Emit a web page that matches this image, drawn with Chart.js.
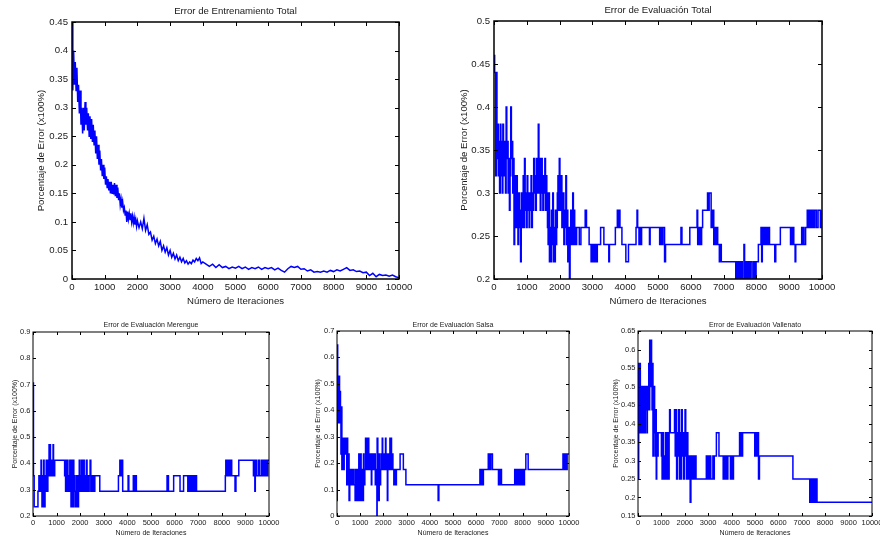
<!DOCTYPE html>
<html>
<head>
<meta charset="utf-8">
<script src="https://cdn.jsdelivr.net/npm/chart.js@4.4.1/dist/chart.umd.min.js"></script>
<style>
  html, body { margin: 0; padding: 0; background: #fff; overflow: hidden; width: 880px; height: 541px; }
  canvas { position: absolute; }
</style>
</head>
<body>
<canvas id="c-train" width="440" height="310" style="left:0;top:0"></canvas>
<canvas id="c-total" width="440" height="310" style="left:440px;top:0"></canvas>
<canvas id="c-mer" width="290" height="226" style="left:0;top:315px"></canvas>
<canvas id="c-sal" width="290" height="226" style="left:300px;top:315px"></canvas>
<canvas id="c-val" width="310" height="226" style="left:590px;top:315px"></canvas>
<script>
/* ─── DATA ───────────────────────────────────────────────────
   [iteración, error] pairs.
   Evaluation curves are step functions: each pair is where the
   value changes.
─────────────────────────────────────────────────────────────── */

const X_TICKS = [0, 1000, 2000, 3000, 4000, 5000, 6000, 7000, 8000, 9000, 10000];

const TRAIN_TICKS = [0, 0.05, 0.1, 0.15, 0.2, 0.25, 0.3, 0.35, 0.4, 0.45];
const TOTAL_TICKS = [0.2, 0.25, 0.3, 0.35, 0.4, 0.45, 0.5];
const MER_TICKS   = [0.2, 0.3, 0.4, 0.5, 0.6, 0.7, 0.8, 0.9];
const SAL_TICKS   = [0, 0.1, 0.2, 0.3, 0.4, 0.5, 0.6, 0.7];
const VAL_TICKS   = [0.15, 0.2, 0.25, 0.3, 0.35, 0.4, 0.45, 0.5, 0.55, 0.6, 0.65];

const TRAIN = [
  [0,0.45],[25,0.33],[50,0.40],[75,0.34],[100,0.38],[125,0.33],[150,0.37],[175,0.31],
  [200,0.34],[225,0.29],[250,0.33],[275,0.27],[300,0.30],[325,0.255],[350,0.30],[375,0.26],
  [400,0.31],[425,0.27],[450,0.30],[475,0.26],[500,0.29],[525,0.25],[550,0.285],[575,0.245],
  [600,0.28],[625,0.24],[650,0.27],[675,0.235],[700,0.26],[725,0.22],[750,0.25],[775,0.21],
  [800,0.235],[825,0.20],[850,0.225],[875,0.19],[900,0.21],[925,0.18],[950,0.20],[975,0.175],
  [1000,0.195],[1025,0.165],[1050,0.18],[1075,0.16],[1100,0.175],[1125,0.155],[1150,0.17],[1175,0.15],
  [1200,0.17],[1225,0.15],[1250,0.165],[1275,0.148],[1300,0.168],[1325,0.145],[1350,0.165],[1375,0.142],
  [1400,0.16],[1425,0.138],[1450,0.15],[1475,0.13],[1500,0.14],[1525,0.125],[1550,0.135],[1575,0.12],
  [1600,0.125],[1625,0.112],[1650,0.12],[1675,0.10],[1700,0.118],[1725,0.105],[1750,0.115],[1775,0.104],
  [1800,0.115],[1825,0.10],[1850,0.11],[1875,0.098],[1900,0.108],[1925,0.095],[1950,0.104],[1975,0.092],
  [2000,0.102],[2050,0.09],[2100,0.10],[2150,0.088],[2200,0.106],[2250,0.085],[2300,0.095],[2350,0.078],
  [2400,0.082],[2450,0.068],[2500,0.075],[2550,0.062],[2600,0.07],[2650,0.058],[2700,0.066],[2750,0.05],
  [2800,0.058],[2850,0.047],[2900,0.055],[2950,0.042],[3000,0.05],[3050,0.038],[3100,0.045],[3150,0.035],
  [3200,0.042],[3250,0.032],[3300,0.038],[3350,0.03],[3400,0.036],[3450,0.028],[3500,0.032],[3550,0.026],
  [3600,0.03],[3650,0.027],[3700,0.033],[3750,0.03],[3800,0.036],[3850,0.032],[3900,0.037],[3950,0.027],
  [4000,0.03],[4100,0.026],[4200,0.022],[4300,0.026],[4400,0.02],[4500,0.025],[4600,0.02],
  [4700,0.022],[4800,0.018],[4900,0.021],[5000,0.019],[5100,0.022],[5200,0.018],[5300,0.021],[5400,0.017],
  [5500,0.02],[5600,0.018],[5700,0.021],[5800,0.017],[5900,0.02],[6000,0.018],[6100,0.02],[6200,0.016],
  [6300,0.019],[6400,0.015],[6500,0.012],[6600,0.018],[6700,0.022],[6800,0.02],[6900,0.022],[7000,0.017],
  [7100,0.018],[7200,0.014],[7300,0.016],[7400,0.012],[7500,0.013],[7600,0.012],[7700,0.014],[7800,0.012],
  [7900,0.015],[8000,0.013],[8100,0.016],[8200,0.014],[8300,0.017],[8400,0.02],[8500,0.015],[8600,0.016],
  [8700,0.013],[8800,0.014],[8900,0.011],[9000,0.012],[9100,0.006],[9200,0.01],[9300,0.004],[9400,0.008],
  [9500,0.006],[9600,0.007],[9700,0.005],[9800,0.007],[9900,0.004],[10000,0.002]
];

const TOTAL = [
  [0,0.46],[20,0.44],[50,0.32],[70,0.44],[90,0.34],[110,0.38],[130,0.32],[150,0.36],[170,0.30],
  [190,0.38],[210,0.32],[230,0.36],[250,0.30],[270,0.38],[290,0.34],[310,0.32],[330,0.36],[350,0.30],
  [370,0.40],[390,0.34],[410,0.36],[430,0.30],[450,0.34],[470,0.28],[490,0.32],[510,0.40],[530,0.34],
  [550,0.36],[570,0.30],[590,0.34],[610,0.24],[630,0.32],[650,0.28],[670,0.26],[690,0.32],[710,0.28],
  [730,0.24],[750,0.30],[770,0.26],[790,0.28],[810,0.22],[830,0.30],[850,0.26],[870,0.28],[890,0.32],
  [910,0.26],[930,0.34],[950,0.28],[970,0.30],[990,0.26],[1010,0.32],[1030,0.28],[1050,0.30],[1070,0.26],
  [1090,0.30],[1110,0.28],[1130,0.32],[1150,0.26],[1170,0.30],[1190,0.28],[1210,0.34],[1230,0.30],
  [1250,0.32],[1270,0.28],[1290,0.34],[1310,0.30],[1330,0.32],[1350,0.38],[1370,0.30],[1390,0.34],
  [1410,0.28],[1430,0.32],[1450,0.34],[1470,0.30],[1490,0.28],[1510,0.32],[1530,0.30],[1550,0.34],
  [1570,0.28],[1590,0.32],[1610,0.30],[1630,0.26],[1650,0.24],[1670,0.30],[1690,0.22],[1710,0.26],
  [1730,0.22],[1750,0.28],[1770,0.24],[1790,0.30],[1810,0.22],[1830,0.26],[1850,0.22],[1870,0.28],
  [1890,0.24],[1910,0.26],[1930,0.30],[1950,0.32],[1970,0.28],[1990,0.34],[2010,0.28],[2030,0.30],
  [2050,0.32],[2070,0.26],[2090,0.28],[2110,0.30],[2130,0.24],[2150,0.28],[2170,0.26],[2190,0.32],
  [2210,0.24],[2230,0.28],[2250,0.22],[2270,0.26],[2300,0.20],[2320,0.24],[2340,0.28],[2360,0.24],
  [2380,0.26],[2400,0.30],[2420,0.24],[2440,0.28],[2460,0.24],[2480,0.26],[2500,0.24],[2520,0.26],
  [2600,0.24],[2650,0.26],[2780,0.28],[2820,0.26],[2900,0.24],[2960,0.22],[2980,0.24],[3000,0.22],
  [3030,0.24],[3060,0.22],[3090,0.24],[3120,0.22],[3150,0.24],[3250,0.26],[3350,0.24],[3500,0.22],
  [3520,0.24],[3700,0.26],[3760,0.28],[3790,0.26],[3810,0.28],[3840,0.26],[3900,0.24],[4020,0.22],
  [4100,0.24],[4330,0.26],[4360,0.28],[4380,0.26],[4420,0.24],[4450,0.26],[4480,0.24],[4500,0.26],
  [4740,0.24],[4760,0.26],[5050,0.24],[5070,0.26],[5090,0.24],[5110,0.26],[5130,0.24],[5150,0.26],
  [5200,0.22],[5230,0.24],[5700,0.26],[5730,0.24],[5970,0.26],[6190,0.28],[6210,0.24],[6230,0.26],
  [6250,0.24],[6280,0.26],[6300,0.24],[6330,0.26],[6360,0.28],[6510,0.30],[6540,0.28],[6560,0.30],
  [6620,0.26],[6660,0.28],[6700,0.24],[6720,0.26],[6750,0.24],[6780,0.26],[6820,0.24],[6870,0.22],
  [6900,0.24],[6930,0.22],[7370,0.20],[7390,0.22],[7410,0.20],[7430,0.22],[7460,0.20],[7480,0.22],
  [7510,0.20],[7540,0.22],[7570,0.20],[7620,0.24],[7640,0.20],[7680,0.22],[7700,0.20],[7740,0.22],
  [7780,0.20],[7820,0.22],[7870,0.20],[7920,0.22],[7950,0.20],[7990,0.22],[8060,0.24],[8140,0.26],
  [8160,0.22],[8180,0.26],[8200,0.24],[8230,0.26],[8260,0.24],[8290,0.26],[8320,0.24],[8360,0.26],
  [8400,0.24],[8560,0.22],[8590,0.24],[8730,0.26],[9040,0.24],[9060,0.26],[9080,0.24],[9100,0.26],
  [9140,0.24],[9180,0.22],[9200,0.24],[9380,0.26],[9400,0.24],[9420,0.26],[9450,0.24],[9500,0.26],
  [9550,0.28],[9580,0.26],[9620,0.28],[9660,0.26],[9700,0.28],[9740,0.26],[9780,0.28],[9830,0.26],
  [9880,0.28],[9950,0.26],[10000,0.28]
];

const MERENGUE = [
  [0,0.706],[20,0.353],[50,0.235],[210,0.294],[250,0.353],[280,0.294],[310,0.353],[340,0.412],
  [360,0.294],[380,0.235],[400,0.353],[420,0.235],[450,0.412],[470,0.294],[490,0.235],[510,0.353],
  [530,0.294],[560,0.412],[580,0.353],[600,0.294],[630,0.412],[650,0.353],[680,0.471],[700,0.353],
  [720,0.471],[740,0.412],[760,0.353],[790,0.412],[830,0.353],[850,0.471],[870,0.412],[900,0.353],
  [920,0.412],[1340,0.353],[1360,0.412],[1380,0.294],[1400,0.412],[1420,0.353],[1440,0.294],[1460,0.412],
  [1480,0.353],[1500,0.294],[1530,0.353],[1560,0.412],[1590,0.294],[1610,0.235],[1630,0.353],[1650,0.412],
  [1670,0.294],[1690,0.235],[1710,0.412],[1730,0.294],[1750,0.353],[1780,0.235],[1800,0.294],[1830,0.235],
  [1850,0.353],[1870,0.294],[1900,0.235],[1930,0.353],[1960,0.412],[1980,0.294],[2000,0.353],[2020,0.294],
  [2050,0.412],[2080,0.353],[2110,0.294],[2140,0.412],[2170,0.353],[2200,0.294],[2230,0.353],[2260,0.412],
  [2290,0.294],[2320,0.353],[2350,0.294],[2380,0.353],[2420,0.412],[2450,0.294],[2480,0.353],[2520,0.294],
  [2560,0.353],[2590,0.294],[2620,0.353],[2830,0.294],[3620,0.353],[3680,0.412],[3710,0.353],[3750,0.412],
  [3800,0.294],[4030,0.353],[4060,0.294],[4250,0.353],[4290,0.294],[4320,0.353],[4380,0.294],[5680,0.353],
  [5740,0.294],[5960,0.353],[6230,0.294],[6380,0.353],[6560,0.294],[6590,0.353],[6620,0.294],[6650,0.353],
  [6690,0.294],[6720,0.353],[6760,0.294],[6800,0.353],[6840,0.294],[6880,0.353],[6930,0.294],[8150,0.353],
  [8170,0.412],[8200,0.353],[8230,0.412],[8260,0.353],[8300,0.412],[8340,0.353],[8380,0.412],[8420,0.353],
  [8560,0.294],[8600,0.353],[8720,0.412],[9340,0.353],[9360,0.412],[9380,0.353],[9400,0.294],[9420,0.353],
  [9440,0.412],[9480,0.353],[9560,0.412],[9600,0.353],[9680,0.412],[9720,0.353],[9780,0.412],[9820,0.353],
  [9860,0.412],[9900,0.353],[9950,0.412],[10000,0.412]
];

const SALSA = [
  [0,0.059],[10,0.647],[30,0.353],[50,0.529],[70,0.412],[90,0.529],[110,0.353],[130,0.471],[150,0.412],
  [170,0.235],[190,0.412],[210,0.176],[230,0.294],[250,0.235],[270,0.294],[290,0.176],[310,0.235],
  [330,0.294],[350,0.235],[370,0.294],[400,0.235],[420,0.118],[440,0.294],[460,0.235],[480,0.118],
  [500,0.235],[520,0.059],[550,0.176],[580,0.118],[610,0.176],[650,0.118],[690,0.176],[730,0.118],
  [780,0.059],[800,0.176],[830,0.118],[860,0.059],[880,0.176],[900,0.118],[920,0.059],[940,0.235],
  [960,0.118],[980,0.176],[1000,0.059],[1020,0.235],[1040,0.118],[1060,0.059],[1080,0.176],[1100,0.118],
  [1120,0.059],[1140,0.235],[1160,0.176],[1180,0.118],[1200,0.176],[1230,0.294],[1250,0.176],[1270,0.235],
  [1290,0.294],[1310,0.176],[1330,0.235],[1350,0.294],[1370,0.176],[1400,0.235],[1430,0.176],[1460,0.235],
  [1480,0.118],[1500,0.235],[1530,0.176],[1560,0.235],[1590,0.176],[1620,0.235],[1650,0.118],[1680,0.176],
  [1720,0.0],[1730,0.294],[1760,0.059],[1780,0.176],[1800,0.059],[1820,0.235],[1850,0.118],[1880,0.176],
  [1920,0.235],[1950,0.294],[1970,0.176],[2000,0.235],[2030,0.176],[2060,0.235],[2090,0.294],[2110,0.176],
  [2140,0.235],[2170,0.059],[2190,0.235],[2220,0.176],[2250,0.235],[2280,0.294],[2300,0.176],[2330,0.294],
  [2350,0.176],[2380,0.235],[2410,0.176],[2450,0.118],[2480,0.176],[2520,0.118],[2560,0.176],[2720,0.235],
  [2860,0.176],[2970,0.118],[4360,0.059],[4390,0.118],[6160,0.176],[6180,0.118],[6200,0.176],[6220,0.118],
  [6250,0.176],[6280,0.118],[6310,0.176],[6520,0.235],[6540,0.176],[6570,0.235],[6600,0.176],[6630,0.235],
  [6700,0.176],[6960,0.118],[6990,0.176],[7020,0.118],[7050,0.176],[7090,0.118],[7660,0.176],[7690,0.118],
  [7740,0.176],[7780,0.118],[7830,0.176],[7870,0.118],[7920,0.176],[7960,0.118],[8000,0.176],[8040,0.118],
  [8080,0.176],[8140,0.235],[8240,0.176],[9740,0.235],[9770,0.176],[9800,0.235],[9830,0.176],[9860,0.235],
  [9890,0.176],[9920,0.235],[10000,0.235]
];

const VALLENATO = [
  [0,0.25],[30,0.5625],[60,0.375],[80,0.5625],[100,0.4375],[120,0.375],[140,0.5],[160,0.375],[180,0.4375],
  [200,0.5],[220,0.375],[240,0.4375],[260,0.5],[290,0.375],[310,0.5],[330,0.4375],[360,0.5],[380,0.375],
  [400,0.4375],[420,0.5],[440,0.4375],[460,0.5625],[480,0.4375],[500,0.625],[540,0.5],[560,0.625],
  [580,0.5625],[600,0.4375],[620,0.5625],[640,0.3125],[660,0.4375],[690,0.5],[710,0.375],[730,0.3125],
  [760,0.4375],[780,0.25],[800,0.375],[830,0.3125],[860,0.375],[1000,0.3125],[1030,0.25],[1060,0.375],
  [1090,0.3125],[1120,0.25],[1150,0.3125],[1180,0.375],[1210,0.25],[1240,0.3125],[1270,0.375],[1300,0.25],
  [1330,0.375],[1350,0.4375],[1380,0.375],[1560,0.4375],[1590,0.3125],[1620,0.4375],[1650,0.25],[1680,0.375],
  [1710,0.3125],[1740,0.4375],[1770,0.25],[1800,0.375],[1830,0.25],[1860,0.4375],[1890,0.3125],[1920,0.375],
  [1950,0.25],[1980,0.375],[2010,0.4375],[2040,0.3125],[2070,0.25],[2100,0.375],[2130,0.25],[2160,0.3125],
  [2200,0.25],[2230,0.1875],[2260,0.3125],[2300,0.25],[2340,0.3125],[2380,0.25],[2420,0.3125],[2480,0.25],
  [2920,0.3125],[2950,0.25],[2990,0.3125],[3030,0.25],[3070,0.3125],[3110,0.25],[3200,0.3125],[3230,0.25],
  [3260,0.3125],[3350,0.375],[3460,0.3125],[3640,0.25],[3680,0.3125],[3720,0.25],[3760,0.3125],[3800,0.25],
  [3840,0.3125],[3950,0.25],[3990,0.3125],[4040,0.25],[4080,0.3125],[4340,0.375],[4370,0.3125],[4400,0.375],
  [4430,0.3125],[4470,0.375],[4990,0.3125],[5020,0.375],[5060,0.3125],[5100,0.375],[5150,0.25],[5190,0.3125],
  [6620,0.25],[7340,0.1875],[7370,0.25],[7410,0.1875],[7440,0.25],[7480,0.1875],[7510,0.25],[7560,0.1875],
  [7600,0.25],[7650,0.1875],[10000,0.1875]
];


/* ─── STYLE ──────────────────────────────────────────────────── */

const FONT = '"Liberation Sans", Arial, Helvetica, sans-serif';
const INK  = '#1a1a1a';
const BLUE = '#0000ff';


/* ─── MATLAB-LIKE FRAME ──────────────────────────────────────
   Box round the plot, inward tick marks on all four sides,
   and the title centred over the axes.
─────────────────────────────────────────────────────────────── */

const matlabBox = {
  id: 'matlabBox',
  afterDraw(chart, args, o) {
    const { ctx, chartArea: a } = chart;
    const xs = chart.scales.x, ys = chart.scales.y;
    ctx.save();
    ctx.strokeStyle = '#000';
    ctx.lineWidth = 1;
    ctx.beginPath();
    xs.ticks.forEach((t) => {
      const px = Math.round(xs.getPixelForValue(t.value)) + 0.5;
      ctx.moveTo(px, a.bottom); ctx.lineTo(px, a.bottom - o.tick);
      ctx.moveTo(px, a.top);    ctx.lineTo(px, a.top + o.tick);
    });
    ys.ticks.forEach((t) => {
      const py = Math.round(ys.getPixelForValue(t.value)) + 0.5;
      ctx.moveTo(a.left, py);  ctx.lineTo(a.left + o.tick, py);
      ctx.moveTo(a.right, py); ctx.lineTo(a.right - o.tick, py);
    });
    ctx.stroke();
    ctx.lineWidth = o.lw;
    ctx.strokeRect(a.left, a.top, a.right - a.left, a.bottom - a.top);
    ctx.fillStyle = INK;
    ctx.font = o.size + 'px ' + FONT;
    ctx.textAlign = 'center';
    ctx.textBaseline = 'middle';
    ctx.fillText(o.title, (a.left + a.right) / 2, o.titleY);
    ctx.restore();
  },
};


/* ─── CHART BUILDER ──────────────────────────────────────────── */

function makeChart(id, points, yTicks, cfg) {
  const labelFont = { family: FONT, size: cfg.fs };
  const tickFont  = { family: FONT, size: cfg.tfs };

  return new Chart(document.getElementById(id), {
    type: 'line',
    data: {
      datasets: [{
        data: points.map((p) => ({ x: p[0], y: p[1] })),
        borderColor: BLUE,
        borderWidth: cfg.bw,
        pointRadius: 0,
        stepped: cfg.stepped,
        tension: 0,
        fill: false,
      }],
    },
    options: {
      responsive: false,
      animation: false,
      events: [],
      layout: { padding: { top: cfg.padTop, right: cfg.padRight, left: 0, bottom: 0 } },
      plugins: {
        legend: { display: false },
        tooltip: { enabled: false },
        matlabBox: { title: cfg.title, titleY: cfg.titleY, size: cfg.fs, tick: cfg.tickLen, lw: cfg.lw },
      },
      scales: {
        x: {
          type: 'linear',
          min: X_TICKS[0],
          max: X_TICKS[X_TICKS.length - 1],
          afterBuildTicks: (s) => { s.ticks = X_TICKS.map((v) => ({ value: v })); },
          afterFit: (s) => { s.height = cfg.xHeight; },
          grid: { display: false, drawTicks: false },
          border: { display: false },
          ticks: {
            autoSkip: false, maxRotation: 0, minRotation: 0,
            padding: cfg.xPad, color: INK, font: tickFont,
            callback: (v) => String(v),
          },
          title: {
            display: true, text: 'Número de Iteraciones', color: INK, font: labelFont,
            padding: { top: 0, bottom: cfg.xTitlePad },
          },
        },
        y: {
          type: 'linear',
          min: yTicks[0],
          max: yTicks[yTicks.length - 1],
          afterBuildTicks: (s) => { s.ticks = yTicks.map((v) => ({ value: v })); },
          afterFit: (s) => { s.width = cfg.yWidth; },
          grid: { display: false, drawTicks: false },
          border: { display: false },
          ticks: {
            autoSkip: false, padding: cfg.yPad, color: INK, font: tickFont,
            callback: (v) => String(v),
          },
          title: {
            display: true, text: 'Porcentaje de Error (x100%)', color: INK, font: labelFont,
            padding: { top: cfg.yTitlePad, bottom: 0 },
          },
        },
      },
    },
    plugins: [matlabBox],
  });
}


/* ─── INIT ───────────────────────────────────────────────────── */

const BIG   = { fs: 9.6, tfs: 9.6, bw: 1.5, lw: 1.5, tickLen: 4, xHeight: 31, xPad: 3, yPad: 4, xTitlePad: 2.5 };
const SMALL = { fs: 7, tfs: 7.5, bw: 1.5, lw: 1, tickLen: 3, xHeight: 25, xPad: 2.5, yPad: 2.5, xTitlePad: 3.5 };

makeChart('c-train', TRAIN, TRAIN_TICKS, Object.assign({}, BIG, {
  title: 'Error de Entrenamiento Total', titleY: 11, stepped: false,
  padTop: 22, padRight: 41, yWidth: 72, yTitlePad: 36,
}));

makeChart('c-total', TOTAL, TOTAL_TICKS, Object.assign({}, BIG, {
  title: 'Error de Evaluación Total', titleY: 10, stepped: true,
  padTop: 21, padRight: 58, yWidth: 54, yTitlePad: 19,
}));

makeChart('c-mer', MERENGUE, MER_TICKS, Object.assign({}, SMALL, {
  title: 'Error de Evaluación Merengue', titleY: 10, stepped: true,
  padTop: 17, padRight: 21, yWidth: 33, yTitlePad: 11,
}));

makeChart('c-sal', SALSA, SAL_TICKS, Object.assign({}, SMALL, {
  title: 'Error de Evaluación Salsa', titleY: 10, stepped: true,
  padTop: 16, padRight: 21, yWidth: 37, yTitlePad: 14,
}));

makeChart('c-val', VALLENATO, VAL_TICKS, Object.assign({}, SMALL, {
  title: 'Error de Evaluación Vallenato', titleY: 10, stepped: true,
  padTop: 16, padRight: 28, yWidth: 48, yTitlePad: 22,
}));
</script>
</body>
</html>
